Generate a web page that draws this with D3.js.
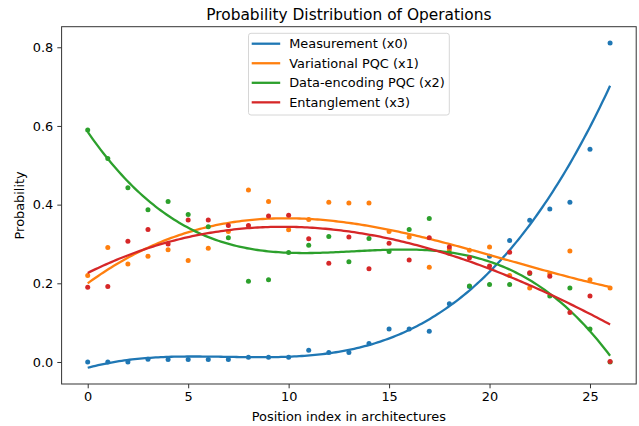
<!DOCTYPE html>
<html>
<head>
<meta charset="utf-8">
<script src="https://cdn.jsdelivr.net/npm/d3@7"></script>
<style>
  body { margin: 0; background: #fff; }
  svg { font-family: "DejaVu Sans", sans-serif; }
</style>
</head>
<body>
<svg id="chart" width="639" height="426"></svg>
<script>
// values
const positions = d3.range(0, 27);
const measurement = [0.000, 0.000, 0.000, 0.007, 0.006, 0.006, 0.006, 0.006, 0.012, 0.012, 0.012, 0.030, 0.024, 0.024, 0.047, 0.084, 0.084, 0.078, 0.148, 0.192, 0.269, 0.309, 0.360, 0.389, 0.406, 0.541, 0.811];
const variational = [0.220, 0.291, 0.249, 0.269, 0.285, 0.258, 0.289, 0.332, 0.437, 0.408, 0.336, 0.362, 0.406, 0.404, 0.404, 0.332, 0.318, 0.241, 0.285, 0.284, 0.292, 0.220, 0.188, 0.224, 0.282, 0.209, 0.188];
const encoding = [0.590, 0.517, 0.443, 0.387, 0.408, 0.375, 0.344, 0.316, 0.205, 0.209, 0.278, 0.297, 0.319, 0.255, 0.314, 0.281, 0.337, 0.365, 0.277, 0.193, 0.197, 0.197, 0.225, 0.168, 0.188, 0.084, 0.000];
const entanglement = [0.190, 0.192, 0.307, 0.337, 0.300, 0.361, 0.361, 0.347, 0.347, 0.371, 0.373, 0.313, 0.251, 0.318, 0.237, 0.302, 0.259, 0.316, 0.292, 0.265, 0.244, 0.279, 0.227, 0.218, 0.126, 0.168, 0.001];

const seriesNames = ['Measurement (x0)', 'Variational PQC (x1)', 'Data-encoding PQC (x2)', 'Entanglement (x3)'];
const colors = ['#1f77b4', '#ff7f0e', '#2ca02c', '#d62728'];
const xTicks = [0, 5, 10, 15, 20, 25];
const yTicks = [0.0, 0.2, 0.4, 0.6, 0.8];
const fitDegree = 3;

const margin = { top: 26.7, right: 2.8, bottom: 42, left: 61.6 };
const width = 639, height = 426;
const chartW = width - margin.left - margin.right;
const chartH = height - margin.top - margin.bottom;

// least squares polynomial trend, like np.polyfit
function polyfit(xs, ys, deg) {
	const s = 26;
	const n = deg + 1;
	const A = d3.range(n).map(() => new Array(n + 1).fill(0));
	xs.forEach((x, k) => {
		const t = x / s;
		for (let i = 0; i < n; i++) {
			for (let j = 0; j < n; j++) A[i][j] += Math.pow(t, i + j);
			A[i][n] += Math.pow(t, i) * ys[k];
		}
	});
	for (let i = 0; i < n; i++) {
		let p = i;
		for (let r = i + 1; r < n; r++) if (Math.abs(A[r][i]) > Math.abs(A[p][i])) p = r;
		[A[i], A[p]] = [A[p], A[i]];
		for (let r = 0; r < n; r++) {
			if (r === i) continue;
			const f = A[r][i] / A[i][i];
			for (let c = i; c <= n; c++) A[r][c] -= f * A[i][c];
		}
	}
	const coef = A.map((row, i) => row[n] / row[i]);
	return x => coef.reduce((acc, c, i) => acc + c * Math.pow(x / s, i), 0);
}

const data = [measurement, variational, encoding, entanglement].map((values, i) => ({
	name: seriesNames[i],
	color: colors[i],
	values: values.map((v, j) => ({ pos: positions[j], value: v })),
	fit: polyfit(positions, values, fitDegree)
}));

const xMin = d3.min(positions), xMax = d3.max(positions);
const x = d3.scaleLinear()
	.domain([xMin - 0.05 * (xMax - xMin), xMax + 0.05 * (xMax - xMin)])
	.range([0, chartW]);

const fitSamples = d3.range(0, 201).map(i => xMin + (xMax - xMin) * i / 200);
data.forEach(d => { d.curve = fitSamples.map(p => ({ pos: p, value: d.fit(p) })); });

const allY = d3.merge(data.map(d => d.values.map(e => e.value).concat(d.curve.map(e => e.value))));
const yLo = d3.min(allY), yHi = d3.max(allY);
const y = d3.scaleLinear()
	.domain([yLo - 0.05 * (yHi - yLo), yHi + 0.05 * (yHi - yLo)])
	.range([chartH, 0]);

const line = d3.line()
	.x(d => x(d.pos))
	.y(d => y(d.value));

const svg = d3.select('#chart');

svg.append('text')
	.attr('x', margin.left + chartW / 2)
	.attr('y', 20)
	.attr('text-anchor', 'middle')
	.attr('font-size', 15.4)
	.text('Probability Distribution of Operations');

const g = svg.append('g')
	.attr('transform', `translate(${margin.left},${margin.top})`);

const plot = g.append('g');

data.forEach(d => {
	plot.append('g')
		.selectAll('circle')
		.data(d.values)
		.join('circle')
		.attr('cx', e => x(e.pos))
		.attr('cy', e => y(e.value))
		.attr('r', 2.5)
		.attr('fill', d.color);

	plot.append('path')
		.attr('d', line(d.curve))
		.attr('fill', 'none')
		.attr('stroke', d.color)
		.attr('stroke-width', 2.3);
});

const xAxis = g.append('g')
	.attr('transform', `translate(0,${chartH})`)
	.call(d3.axisBottom(x).tickValues(xTicks).tickFormat(d3.format('d')).tickSize(4.3).tickPadding(4));

const yAxis = g.append('g')
	.call(d3.axisLeft(y).tickValues(yTicks).tickFormat(d3.format('.1f')).tickSize(4.3).tickPadding(4));

[xAxis, yAxis].forEach(a => {
	a.select('.domain').remove();
	a.selectAll('line').attr('stroke', '#333').attr('stroke-width', 1);
	a.selectAll('text').attr('font-size', 12.9).attr('fill', '#000').attr('font-family', 'DejaVu Sans');
});

g.append('rect')
	.attr('width', chartW)
	.attr('height', chartH)
	.attr('fill', 'none')
	.attr('stroke', '#333')
	.attr('stroke-width', 1);

g.append('text')
	.attr('x', chartW / 2)
	.attr('y', chartH + 37)
	.attr('text-anchor', 'middle')
	.attr('font-size', 12.9)
	.text('Position index in architectures');

g.append('text')
	.attr('transform', `translate(-38,${chartH / 2}) rotate(-90)`)
	.attr('text-anchor', 'middle')
	.attr('font-size', 12.9)
	.text('Probability');

// legend
const legend = svg.append('g')
	.attr('transform', 'translate(248.5,33.3)');

legend.append('rect')
	.attr('width', 200.8)
	.attr('height', 81.7)
	.attr('rx', 2.5)
	.attr('fill', '#fff')
	.attr('fill-opacity', 0.8)
	.attr('stroke', '#d6d6d6')
	.attr('stroke-width', 1);

const rows = legend.selectAll('g.row')
	.data(data)
	.join('g')
	.attr('class', 'row')
	.attr('transform', (d, i) => `translate(0,${10.4 + i * 19.55})`);

rows.append('line')
	.attr('x1', 3.2)
	.attr('x2', 31.7)
	.attr('stroke', d => d.color)
	.attr('stroke-width', 2.3);

rows.append('text')
	.attr('x', 40.7)
	.attr('dy', '0.35em')
	.attr('font-size', 12.9)
	.text(d => d.name);
</script>
</body>
</html>
